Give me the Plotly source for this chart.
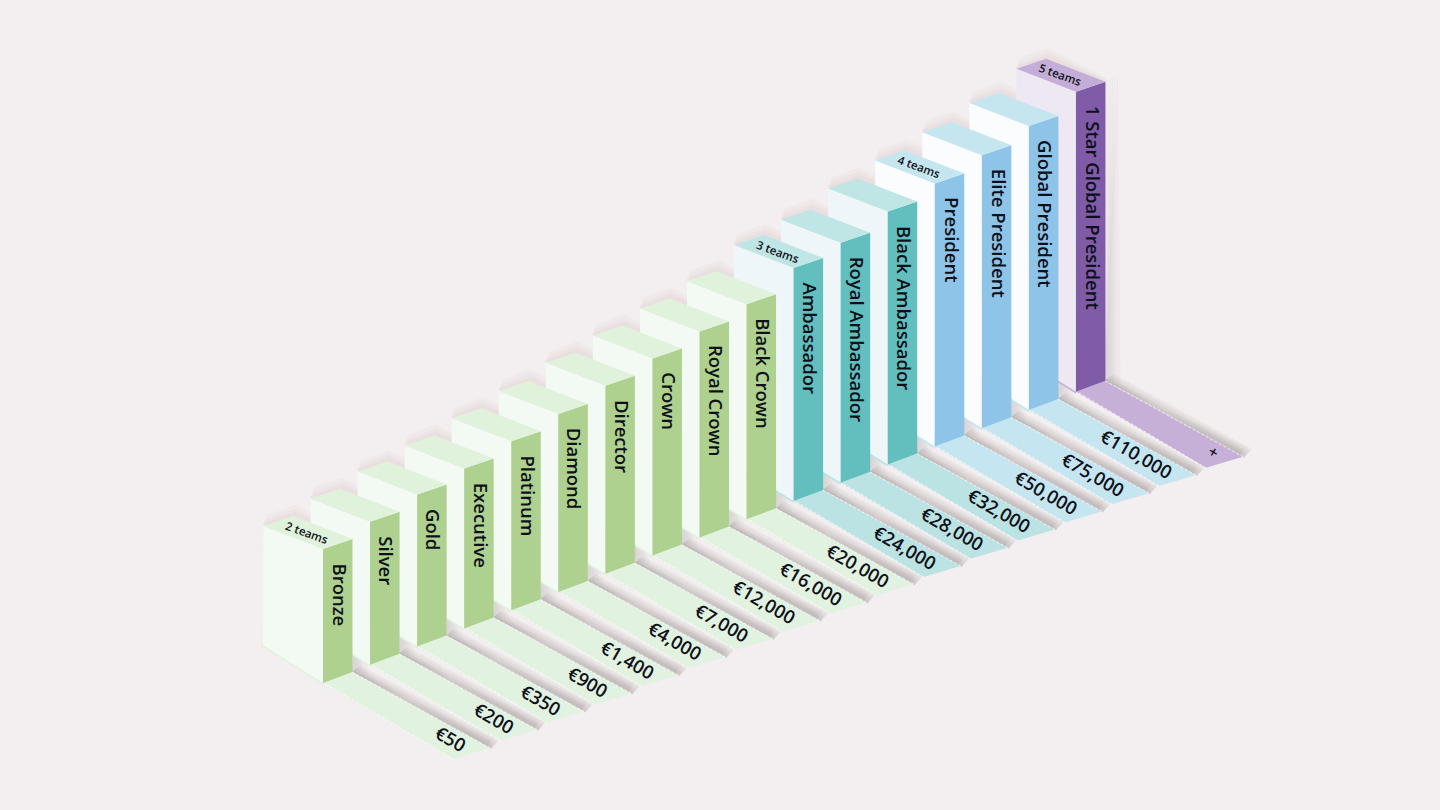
import plotly.graph_objects as go

ranks = ["Bronze", "Silver", "Gold", "Executive", "Platinum", "Diamond", "Director", "Crown",
         "Royal Crown", "Black Crown", "Ambassador", "Royal Ambassador", "Black Ambassador",
         "President", "Elite President", "Global President", "1 Star Global President"]
rewards = ["€50", "€200", "€350", "€900", "€1,400", "€4,000", "€7,000", "€12,000", "€16,000",
           "€20,000", "€24,000", "€28,000", "€32,000", "€50,000", "€75,000", "€110,000", "+"]
heights = [134, 143, 152, 160, 169, 178, 188, 197, 206, 215, 233, 240, 253, 263, 273, 284, 300]
groups = ["g"] * 10 + ["t"] * 3 + ["b"] * 3 + ["p"]
team_notes = {0: "2 teams", 10: "3 teams", 13: "4 teams", 16: "5 teams"}

BG = "#F3EEEF"
SIDE = {"g": "#AED190", "t": "#62BFBE", "b": "#8EC4E8", "p": "#7F5BA8"}
FRONT = {"g": "#F3F9F3", "t": "#EEF6FA", "b": "#FAFCFE", "p": "#EEE8F3"}
TOP = {"g": "#E0F1DC", "t": "#BFE5E4", "b": "#C5E6EF", "p": "#C4AED8"}
FLOOR = {"g": "#E2F2E0", "t": "#BCE3E3", "b": "#C5E6F0", "p": "#C7B0D7"}

X0, Y0, STEP_X, STEP_Y = 323, 683, 47.06, -18.2
fig = go.Figure()


def poly(pts, color, opacity=1.0):
    fig.add_trace(go.Scatter(x=[p[0] for p in pts] + [pts[0][0]], y=[p[1] for p in pts] + [pts[0][1]],
                             mode="lines", fill="toself", fillcolor=color, opacity=opacity,
                             line=dict(width=0, color=color), hoverinfo="skip", showlegend=False))


def dash(a, b):
    fig.add_trace(go.Scatter(x=[a[0], b[0]], y=[a[1], b[1]], mode="lines",
                             line=dict(color="rgba(255,255,255,0.7)", width=1, dash="3px,2px"),
                             hoverinfo="skip", showlegend=False))


def base(i):
    return X0 + STEP_X * i, Y0 + STEP_Y * i


# soft shadows first
for i in range(len(ranks) - 1, -1, -1):
    fx, fy = base(i)
    h = heights[i]
    for k in (1, 3, 5, 7, 9, 12):
        poly([(fx + 29, fy - 11), (fx + 29 + k, fy - 11 - h - k * 0.5), (fx + 30 + k, fy - h - 11 - k * 0.5),
              (fx + 29 + k * 1.3, fy - 11 + k * 0.2), (fx + 164, fy + 66 - k * 0.4), (fx + 167 + k * 0.3, fy + 66 - k * 0.9),
              ], "#7d7276", 0.035)
    # floor band behind the strip
    for k in (2, 4, 6, 8):
        poly([(fx + 29, fy - 11), (fx + 29 + k, fy - 11 - k * 0.85), (fx + 168 + k, fy + 64 - k * 0.85), (fx + 168, fy + 66)],
             "#7d7276", 0.08)
    # pale glow behind the back top edge
    for k in (3, 6, 10):
        poly([(fx - 60, fy - h - 24), (fx - 60 + 4, fy - h - 24 - k), (fx - 28, fy - h - 34 - k), (fx + 30, fy - h - 10 - k * 0.4), (fx + 30, fy - h - 10)],
             "#c9a9ad", 0.07)

# floor strips
for i in range(len(ranks)):
    fx, fy = base(i)
    c = FLOOR[groups[i]]
    a, b, d, e = (fx, fy), (fx + 29, fy - 11), (fx + 167, fy + 65), (fx + 130, fy + 76)
    poly([a, b, d, e], c)
    dash((a[0] + 3, a[1] + 1), e)
    dash(b, d)
    # rim in front of the left face
    poly([(fx - 63, fy - 38), (fx - 60, fy - 41), (fx, fy - 3), (fx, fy + 2)], c)

# bars, far to near
for i in range(len(ranks) - 1, -1, -1):
    fx, fy = base(i)
    h = heights[i]
    g = groups[i]
    front_top = (fx, fy - h)
    left_top = (fx - 59.5, fy - h - 23)
    right_top = (fx + 29.5, fy - h - 10)
    back_top = (fx - 30, fy - h - 33)
    poly([left_top, front_top, (fx, fy), (fx - 60, fy - 38)], FRONT[g])
    poly([front_top, right_top, (fx + 29.5, fy - 11), (fx, fy)], SIDE[g])
    poly([left_top, back_top, right_top, front_top], TOP[g])

INK = "#0d1018"
for i, name in enumerate(ranks):
    fx, fy = base(i)
    fig.add_annotation(x=fx + 17, y=fy - heights[i] + 12, text=name, textangle=90, showarrow=False,
                       xanchor="center", yanchor="top",
                       font=dict(family="Open Sans", size=18.5, color=INK, weight=600))
    if rewards[i] == "+":
        fig.add_annotation(x=fx + 138, y=fy + 60, text="+", textangle=30, showarrow=False,
                           font=dict(family="Open Sans", size=16, color=INK, weight=600))
    else:
        fig.add_annotation(x=fx + 151, y=fy + 77, text=rewards[i], textangle=30, showarrow=False,
                           xanchor="right", yanchor="bottom",
                           font=dict(family="Open Sans", size=18.5, color=INK, weight=600))
for i, note in team_notes.items():
    fx, fy = base(i)
    fig.add_annotation(x=fx - 16, y=fy - heights[i] - 17, text=note, textangle=20, showarrow=False,
                       font=dict(family="Open Sans", size=11.5, color=INK, weight=600))

fig.update_xaxes(visible=False, range=[0, 1440], fixedrange=True)
fig.update_yaxes(visible=False, range=[810, 0], fixedrange=True)
fig.update_layout(width=1440, height=810, margin=dict(l=0, r=0, t=0, b=0), autosize=False,
                  paper_bgcolor=BG, plot_bgcolor=BG, showlegend=False)
fig.write_html("out.html", config=dict(displayModeBar=False),
               post_script="document.body.style.margin='0';document.body.style.background='" + BG + "';")
